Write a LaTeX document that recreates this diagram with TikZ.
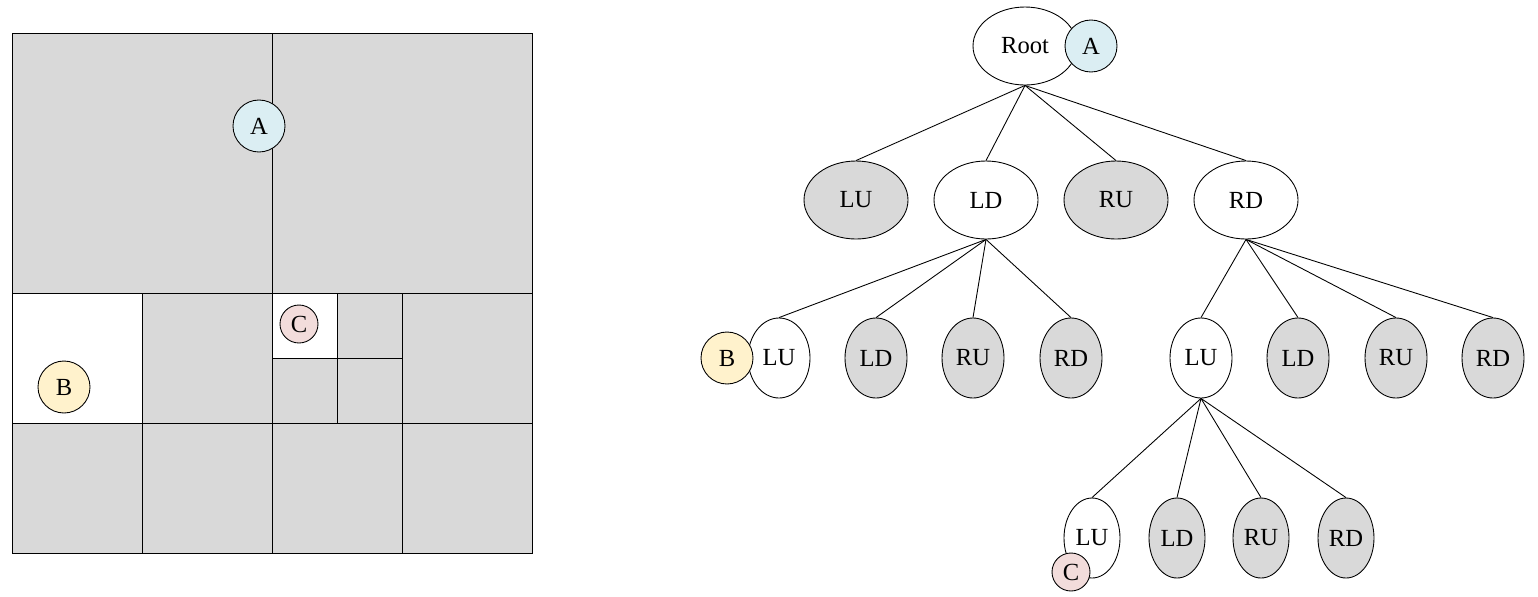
\documentclass[tikz,border=0pt]{standalone}
\usepackage{fontspec}
\setmainfont{Liberation Serif}
\usetikzlibrary{shapes.geometric}
\definecolor{g}{HTML}{D9D9D9}
\definecolor{ca}{HTML}{DBEEF3}
\definecolor{cb}{HTML}{FFF2CC}
\definecolor{cc}{HTML}{F2DCDB}
\begin{document}
\begin{tikzpicture}[x=0.02cm,y=-0.02cm,
  every node/.style={font=\fontsize{14}{16}\selectfont, draw=black, line width=0.5pt},
  big/.style={ellipse, minimum width=104*0.02cm, minimum height=78*0.02cm, inner sep=0pt},
  sm/.style={ellipse, minimum width=62*0.02cm, minimum height=80*0.02cm, inner sep=0pt},
  tn/.style={ellipse, minimum width=56*0.02cm, minimum height=80*0.02cm, inner sep=0pt},
  gr/.style={fill=g}, wh/.style={fill=white},
  dot/.style={circle, inner sep=0pt, minimum size=52*0.02cm},
  sdot/.style={circle, inner sep=0pt, minimum size=38*0.02cm},
  edge/.style={line width=0.5pt}]
\useasboundingbox (0,0) rectangle (1538,596);
% left grid
\fill[g] (12,33) rectangle (532,553);
\fill[white] (12,293) rectangle (142,423);
\fill[white] (272,293) rectangle (337,358);
\draw (12,33) rectangle (532,553);
\draw (272,33) -- (272,553);
\draw (12,293) -- (532,293);
\draw (12,423) -- (532,423);
\draw (142,293) -- (142,553);
\draw (402,293) -- (402,553);
\draw (337,293) -- (337,423);
\draw (272,358) -- (402,358);
\node[dot,fill=ca] (gA) at (259,126) {A};
\node[dot,fill=cb] (gB) at (64,387) {B};
\node[sdot,fill=cc] (gC) at (299,324) {C};
% tree
\node[big,wh] (root) at (1025,46) {Root};
\node[big,gr] (lu) at (856,200) {LU};
\node[big,wh] (ld) at (986,200) {LD};
\node[big,gr] (ru) at (1116,200) {RU};
\node[big,wh] (rd) at (1246,200) {RD};
\node[sm,wh] (ldlu) at (779,358) {LU};
\node[sm,gr] (ldld) at (876,358) {LD};
\node[sm,gr] (ldru) at (973,358) {RU};
\node[sm,gr] (ldrd) at (1071,358) {RD};
\node[sm,wh] (rdlu) at (1201,358) {LU};
\node[sm,gr] (rdld) at (1298,358) {LD};
\node[sm,gr] (rdru) at (1396,358) {RU};
\node[sm,gr] (rdrd) at (1493,358) {RD};
\node[tn,wh] (xlu) at (1092,538) {LU};
\node[tn,gr] (xld) at (1177,538) {LD};
\node[tn,gr] (xru) at (1261,538) {RU};
\node[tn,gr] (xrd) at (1346,538) {RD};
\node[dot,fill=ca] (tA) at (1091,46) {A};
\node[dot,fill=cb] (tB) at (727,358) {B};
\node[sdot,fill=cc] (tC) at (1071,572) {C};
\foreach \c in {lu,ld,ru,rd} \draw[edge] (root.south) -- (\c.north);
\foreach \c in {ldlu,ldld,ldru,ldrd} \draw[edge] (ld.south) -- (\c.north);
\foreach \c in {rdlu,rdld,rdru,rdrd} \draw[edge] (rd.south) -- (\c.north);
\foreach \c in {xlu,xld,xru,xrd} \draw[edge] (rdlu.south) -- (\c.north);
\end{tikzpicture}
\end{document}
